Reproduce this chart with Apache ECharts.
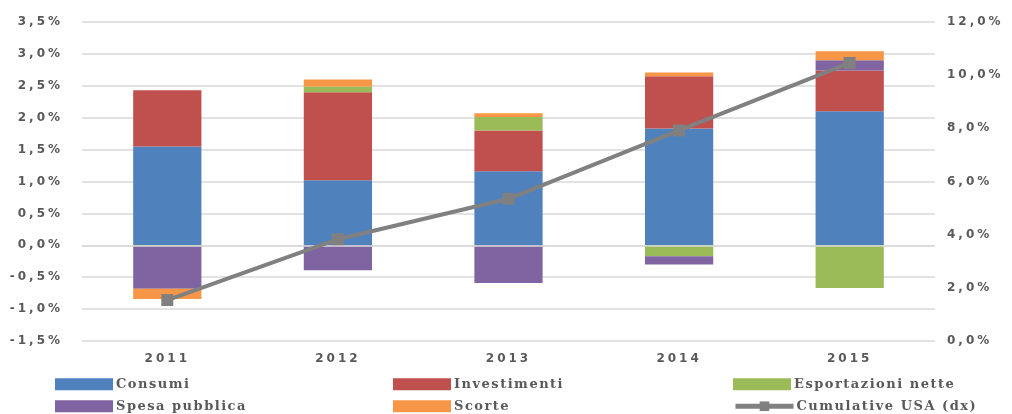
<!DOCTYPE html>
<html>
<head>
<meta charset="utf-8">
<script src="https://cdn.jsdelivr.net/npm/echarts@6/dist/echarts.min.js"></script>
<style>html,body{margin:0;padding:0;background:#fff}#c{width:1012px;height:414px}</style>
</head>
<body>
<div id="c"></div>
<script>
var categories = ['2011', '2012', '2013', '2014', '2015'];
var consumi = [1.55, 1.02, 1.16, 1.83, 2.10];
var investimenti = [0.88, 1.38, 0.64, 0.82, 0.64];
var esportazioni = [-0.01, 0.09, 0.21, -0.17, -0.67];
var spesaPubblica = [-0.67, -0.39, -0.59, -0.13, 0.16];
var scorte = [-0.16, 0.11, 0.06, 0.06, 0.14];
var cumulativeUSA = [1.54, 3.83, 5.35, 7.92, 10.46];
var leftTicks = { min: -1.5, max: 3.5, interval: 0.5 };
var rightTicks = { min: 0, max: 12, interval: 2 };

// wide letter spacing to mimic the reference's rendering
(function () {
  var P = CanvasRenderingContext2D.prototype;
  function sp(ctx) {
    var f = ctx.font || '';
    if (!('letterSpacing' in ctx)) return;
    if (f.indexOf('12px') >= 0) ctx.letterSpacing = '3px';
    else if (f.indexOf('13px') >= 0) ctx.letterSpacing = '1.5px';
    else ctx.letterSpacing = '0px';
  }
  ['measureText', 'fillText', 'strokeText'].forEach(function (m) {
    var o = P[m];
    P[m] = function () { sp(this); return o.apply(this, arguments); };
  });
})();

var FONT = 'DejaVu Serif';
var AXF = 'DejaVu Sans';
var TXT = '#595959';
function pct(v) { return v.toFixed(1).replace('.', ',') + '%'; }

function barSeries(name, data, color) {
  return {
    name: name, type: 'bar', stack: 'tot', data: data, barWidth: '40%',
    itemStyle: { color: color }, emphasis: { disabled: true }
  };
}
var series = [
  barSeries('Consumi', consumi, '#4f81bd'),
  barSeries('Investimenti', investimenti, '#c0504d'),
  barSeries('Esportazioni nette', esportazioni, '#9bbb59'),
  barSeries('Spesa pubblica', spesaPubblica, '#8064a2'),
  barSeries('Scorte', scorte, '#f79646'),
  {
    name: 'Cumulative USA (dx)', type: 'line', yAxisIndex: 1, data: cumulativeUSA,
    symbol: 'rect', symbolSize: 12,
    lineStyle: { color: '#808080', width: 4 },
    itemStyle: { color: '#808080' }, z: 5
  }
];
series[4].markLine = {
  silent: true, symbol: 'none', label: { show: false },
  lineStyle: { color: '#d9d9d9', type: 'solid', width: 1.5 },
  data: [{ yAxis: 0 }]
};

function leg(name, left, top, isLine) {
  var l = {
    data: [name], left: left, top: top, padding: 0,
    itemWidth: 58, itemHeight: 12,
    textStyle: { fontFamily: FONT, fontWeight: 'bold', fontSize: 13, color: TXT, padding: [0, 0, 0, -2] },
    selectedMode: false
  };
  if (!isLine) l.icon = 'rect';
  else l.itemStyle = { borderWidth: 0 };
  if (isLine) l.lineStyle = { width: 5 };
  return l;
}
var option = {
  animation: false,
  grid: { left: 82, right: 77, top: 22, bottom: 73 },
  legend: [
    leg('Consumi', 55, 377), leg('Spesa pubblica', 55, 399),
    leg('Investimenti', 393, 377), leg('Scorte', 393, 399),
    leg('Esportazioni nette', 733, 377), leg('Cumulative USA (dx)', 733, 399, true)
  ],
  xAxis: {
    type: 'category', data: categories,
    axisLine: { show: false }, axisTick: { show: false },
    axisLabel: { fontFamily: AXF, fontWeight: 'bold', fontSize: 12, color: TXT, margin: 10 }
  },
  yAxis: [
    {
      type: 'value', min: leftTicks.min, max: leftTicks.max, interval: leftTicks.interval,
      axisLine: { show: false }, axisTick: { show: false },
      splitLine: { lineStyle: { color: '#d9d9d9', width: 1.5 } },
      axisLabel: { fontFamily: AXF, fontWeight: 'bold', fontSize: 12, color: TXT, margin: 19, formatter: pct }
    },
    {
      type: 'value', min: rightTicks.min, max: rightTicks.max, interval: rightTicks.interval,
      axisLine: { show: false }, axisTick: { show: false }, splitLine: { show: false },
      axisLabel: { fontFamily: AXF, fontWeight: 'bold', fontSize: 12, color: TXT, margin: 12, formatter: pct }
    }
  ],
  series: series
};
var chart = echarts.init(document.getElementById('c'), null, { renderer: 'canvas' });
chart.setOption(option);
</script>
</body>
</html>
